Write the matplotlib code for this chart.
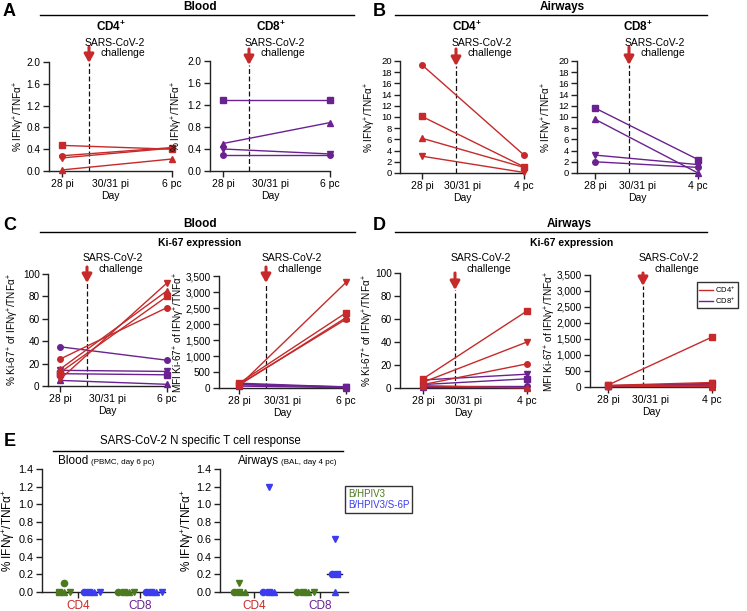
import matplotlib
matplotlib.use('Agg')
import matplotlib.pyplot as plt
from matplotlib.lines import Line2D
from matplotlib import transforms
from matplotlib.ticker import FuncFormatter
import numpy as np

plt.rcParams['font.family'] = ['Liberation Sans', 'DejaVu Sans']
plt.rcParams['mathtext.fontset'] = 'custom'
plt.rcParams['mathtext.rm'] = 'Liberation Sans'
plt.rcParams['mathtext.it'] = 'Liberation Sans:italic'
plt.rcParams['mathtext.bf'] = 'Liberation Sans:bold'

#_________data (one value per animal, animals = circle, square, up-tri, down-tri)_________#
markers = ['o', 's', '^', 'v']
days_blood = ['28 pi', '6 pc']
days_airways = ['28 pi', '4 pc']

# A : blood, % IFNg+/TNFa+
a_cd4_pre = [0.28, 0.47, 0.02, 0.24]
a_cd4_post = [0.43, 0.40, 0.22, 0.42]
a_cd8_pre = [0.30, 1.30, 0.50, 0.40]
a_cd8_post = [0.30, 1.30, 0.88, 0.31]
# B : airways, % IFNg+/TNFa+
b_cd4_pre = [19.3, 10.1, 6.2, 3.0]
b_cd4_post = [3.2, 1.1, 1.0, 0.1]
b_cd8_pre = [2.0, 11.6, 9.6, 3.2]
b_cd8_post = [1.0, 2.4, 0.0, 1.5]
# C : blood, Ki-67
c_pct_cd4_pre = [24, 12, 15, 6]
c_pct_cd4_post = [70, 80, 85, 92]
c_pct_cd8_pre = [35, 11, 5, 14]
c_pct_cd8_post = [23, 10, 1.5, 13]
c_mfi_cd4_pre = [110, 150, 90, 70]
c_mfi_cd4_post = [2150, 2350, 2200, 3300]
c_mfi_cd8_pre = [150, 100, 60, 120]
c_mfi_cd8_post = [30, 40, 10, 20]
# D : airways, Ki-67
d_pct_cd4_pre = [3, 8, 2, 5]
d_pct_cd4_post = [21, 67, 0, 40]
d_pct_cd8_pre = [2, 3, 1, 7]
d_pct_cd8_post = [2, 8, 1, 12]
d_mfi_cd4_pre = [40, 60, 30, 50]
d_mfi_cd4_post = [60, 1560, 10, 140]
d_mfi_cd8_pre = [30, 40, 20, 30]
d_mfi_cd8_post = [40, 90, 20, 110]

# E : N specific response, groups CD4 / CD8
e_cats = ['CD4', 'CD8']
e_blood_green = [[0.1, 0, 0, 0], [0, 0, 0, 0]]
e_blood_blue = [[0, 0, 0, 0], [0, 0, 0, 0]]
e_air_green = [[0, 0, 0, 0.1], [0, 0, 0, 0]]
e_air_blue = [[0, 0, 0, 1.2], [0.2, 0.2, 0, 0.6]]

RED = '#c62a2a'
PURPLE = '#6a2290'
GREEN = '#4b7a1f'
BLUE = '#3b3bf0'
AX = '#222222'

W, H = 747, 611
fig = plt.figure(figsize=(W / 100, H / 100), dpi=100)


def fx(x):
    return x / W


def fy(y):
    return 1 - y / H


def make_ax(x0, x1, yt, yb, labelsize=7.5):
    ax = fig.add_axes([fx(x0), fy(yb), (x1 - x0) / W, (yb - yt) / H])
    ax.spines[['top', 'right']].set_visible(False)
    for s in ax.spines.values():
        s.set_linewidth(1)
        s.set_color(AX)
    ax.tick_params(direction='out', length=4, width=1, color=AX, labelsize=labelsize, pad=2)
    return ax


def time_panel(rect, x28, xchal, last, ylim, yticks, fmt, ylabel, ylab_x, series,
               arrow, txt_y, labelsize=7.2):
    x0, x1, yt, yb = rect
    ax = make_ax(x0, x1, yt, yb, labelsize)
    lo = -(x28 - x0) / (x1 - x28)
    chal = (xchal - x28) / (x1 - x28)
    ax.set_xlim(lo, 1)
    ax.set_ylim(*ylim)
    ax.set_yticks(yticks)
    ax.yaxis.set_major_formatter(FuncFormatter(fmt))
    ax.set_xticks([0, 1], ['28 pi', last])
    ax.set_xticks([(lo + 1) / 2], ['30/31 pi'], minor=True)
    ax.tick_params(axis='x', which='major', labelsize=7.5)
    ax.tick_params(axis='x', which='minor', length=0, pad=6, labelsize=7.5)
    ax.set_xlabel('Day', fontsize=7.5, labelpad=1)
    ax.set_ylabel(ylabel, fontsize=7.2)
    ax.yaxis.set_label_coords(ylab_x, 0.5)

    for pre, post, col in series:
        for i in range(len(pre)):
            ax.plot([0, 1], [pre[i], post[i]], color=col, lw=1, marker=markers[i],
                    ms=4, clip_on=False, zorder=3)

    # challenge arrow + dashed line
    top, tip = arrow
    tip_frac = (yb - tip) / (yb - yt)
    ax.axvline(chal, ymin=0, ymax=tip_frac, color='#111111', lw=0.9, ls=(0, (4, 2)), zorder=2)
    tr = transforms.blended_transform_factory(ax.transData, fig.transFigure)
    ax.annotate('', xy=(chal, fy(tip)), xycoords=tr, xytext=(chal, fy(top)), textcoords=tr,
                arrowprops=dict(arrowstyle='-|>,head_width=0.28,head_length=0.5', color=RED,
                                lw=2.2, shrinkA=0, shrinkB=0), annotation_clip=False)
    ttr = transforms.offset_copy(tr, fig=fig, x=-4, y=0, units='dots')
    ax.text(chal, fy(txt_y), 'SARS-CoV-2\nchallenge', transform=ttr, ha='left', va='center',
            multialignment='right', fontsize=7.5, linespacing=1.05)
    return ax


def dec1(v, p):
    return f'{v:.1f}'


def integer(v, p):
    return f'{int(round(v))}'


def comma(v, p):
    return f'{int(round(v)):,}'


IFN = '% IFNγ$^{+}$/TNFα$^{+}$'
KI_PCT = '% Ki-67$^{+}$ of IFNγ$^{+}$/TNFα$^{+}$'
KI_MFI = 'MFI Ki-67$^{+}$ of IFNγ$^{+}$/TNFα$^{+}$'

# ---- A ----
time_panel((49, 172, 62, 171), 62, 89, days_blood[1], (0, 2.0), np.arange(0, 2.01, 0.4), dec1,
           IFN, -0.18, [(a_cd4_pre, a_cd4_post, RED)], (47, 63), 48)
time_panel((210, 330, 61, 171), 223, 249, days_blood[1], (0, 2.0), np.arange(0, 2.01, 0.4), dec1,
           IFN, -0.21, [(a_cd8_pre, a_cd8_post, PURPLE)], (49, 65), 48)
# ---- B ----
time_panel((400, 524, 61, 173), 422, 456, days_airways[1], (0, 20), np.arange(0, 21, 2), integer,
           IFN, -0.18, [(b_cd4_pre, b_cd4_post, RED)], (49, 66), 48, labelsize=6.8)
time_panel((577, 698, 61, 173), 595, 629, days_airways[1], (0, 20), np.arange(0, 21, 2), integer,
           IFN, -0.18, [(b_cd8_pre, b_cd8_post, PURPLE)], (47, 65), 48, labelsize=6.8)
# ---- C ----
time_panel((48, 167, 274, 386), 60, 87, days_blood[1], (0, 100), np.arange(0, 101, 20), integer,
           KI_PCT, -0.23, [(c_pct_cd8_pre, c_pct_cd8_post, PURPLE), (c_pct_cd4_pre, c_pct_cd4_post, RED)],
           (267, 283), 263.5)
time_panel((219, 346, 276, 388), 239, 266, days_blood[1], (0, 3500), np.arange(0, 3501, 500), comma,
           KI_MFI, -0.25, [(c_mfi_cd8_pre, c_mfi_cd8_post, PURPLE), (c_mfi_cd4_pre, c_mfi_cd4_post, RED)],
           (267, 283), 263.5)
# ---- D ----
time_panel((400, 527, 273, 388), 423, 455, days_airways[1], (0, 100), np.arange(0, 101, 20), integer,
           KI_PCT, -0.19, [(d_pct_cd8_pre, d_pct_cd8_post, PURPLE), (d_pct_cd4_pre, d_pct_cd4_post, RED)],
           (273, 290), 263.5)
time_panel((590, 712, 275, 387), 608, 643, days_airways[1], (0, 3500), np.arange(0, 3501, 500), comma,
           KI_MFI, -0.26, [(d_mfi_cd8_pre, d_mfi_cd8_post, PURPLE), (d_mfi_cd4_pre, d_mfi_cd4_post, RED)],
           (273, 286), 263.5)

fig.legend([Line2D([], [], color=RED, lw=1), Line2D([], [], color=PURPLE, lw=1)],
           ['CD4$^{+}$', 'CD8$^{+}$'], loc='upper left', bbox_to_anchor=(fx(697), fy(282)),
           fontsize=5.5, frameon=True, fancybox=False, edgecolor='k', borderpad=0.3,
           handlelength=1.8, handletextpad=0.3, labelspacing=0.15, borderaxespad=0)


# ---- E ----
def e_panel(rect, tick_px, ylab_x, green, blue):
    x0, x1, yt, yb = rect
    ax = make_ax(x0, x1, yt, yb, labelsize=7.8)
    ax.tick_params(axis='x', labelsize=8.5)
    unit = tick_px[1] - tick_px[0]
    ax.set_xlim((x0 - tick_px[0]) / unit, (x1 - tick_px[0]) / unit)
    ax.set_ylim(0, 1.4)
    ax.set_yticks(np.arange(0, 1.41, 0.2))
    ax.yaxis.set_major_formatter(FuncFormatter(dec1))
    ax.set_xticks([0, 1], e_cats)
    for lab, col in zip(ax.get_xticklabels(), [RED, PURPLE]):
        lab.set_color(col)
    ax.set_ylabel(IFN, fontsize=8.5)
    ax.yaxis.set_label_coords(ylab_x, 0.5)
    step = 0.085
    for vals_all, col, off in [(green, GREEN, -0.22), (blue, BLUE, 0.22)]:
        for g, vals in enumerate(vals_all):
            vals = np.array(vals, dtype=float)
            xs = np.zeros(len(vals))
            for v in np.unique(vals):
                idx = np.where(vals == v)[0]
                xs[idx] = (np.arange(len(idx)) - (len(idx) - 1) / 2) * step
            for i in range(len(vals)):
                ax.plot(g + off + xs[i], vals[i], marker=['o', 's', '^', 'v'][i], color=col,
                        ms=4.5, clip_on=False, zorder=4, ls='none')
            med = np.median(vals)
            ax.plot([g + off - 0.12, g + off + 0.12], [med, med], color='#111133', lw=1,
                    clip_on=False, zorder=3)
    return ax


e_panel((42, 165, 469, 592), (78, 140), -0.2, e_blood_green, e_blood_blue)
e_panel((220, 348, 469, 592), (254, 320), -0.19, e_air_green, e_air_blue)

leg = fig.legend([Line2D([], [], lw=0), Line2D([], [], lw=0)], ['B/HPIV3', 'B/HPIV3/S-6P'],
                 loc='upper left', bbox_to_anchor=(fx(345), fy(486)), fontsize=7, frameon=True,
                 fancybox=False, edgecolor='k', handlelength=0, handletextpad=0, borderpad=0.3,
                 labelspacing=0.15, borderaxespad=0)
for t, c in zip(leg.get_texts(), [GREEN, BLUE]):
    t.set_color(c)

# ---- headers ----
def header_line(xa, xb, y):
    fig.add_artist(Line2D([fx(xa), fx(xb)], [fy(y), fy(y)], color='k', lw=1))


for letter, x, y in [('A', 3, 12), ('B', 373, 12), ('C', 3, 226), ('D', 373, 226), ('E', 4, 441)]:
    fig.text(fx(x), fy(y), letter, fontsize=13, fontweight='bold', va='center', ha='left')

fig.text(fx(200), fy(7), 'Blood', fontsize=8.5, fontweight='bold', ha='center', va='center')
fig.text(fx(562), fy(7), 'Airways', fontsize=8.5, fontweight='bold', ha='center', va='center')
header_line(40, 354, 15)
header_line(395, 707, 15)
for txt, x in [('CD4$^{\\mathbf{+}}$', 111), ('CD8$^{\\mathbf{+}}$', 271),
               ('CD4$^{\\mathbf{+}}$', 467), ('CD8$^{\\mathbf{+}}$', 638)]:
    fig.text(fx(x), fy(27), txt, fontsize=8.5, fontweight='bold', ha='center', va='center')

fig.text(fx(200), fy(224), 'Blood', fontsize=8.5, fontweight='bold', ha='center', va='center')
fig.text(fx(569), fy(224), 'Airways', fontsize=8.5, fontweight='bold', ha='center', va='center')
header_line(40, 355, 232)
header_line(395, 707, 232)
fig.text(fx(200), fy(243), 'Ki-67 expression', fontsize=7.5, fontweight='bold', ha='center', va='center')
fig.text(fx(572), fy(243), 'Ki-67 expression', fontsize=7.5, fontweight='bold', ha='center', va='center')

fig.text(fx(200), fy(441), 'SARS-CoV-2 N specific T cell response', fontsize=8.3, ha='center', va='center')
header_line(53, 343, 451)
fig.text(fx(58), fy(461), 'Blood', fontsize=8.5, ha='left', va='center')
fig.text(fx(91), fy(462), '(PBMC, day 6 pc)', fontsize=5.8, ha='left', va='center')
fig.text(fx(238), fy(461), 'Airways', fontsize=8.5, ha='left', va='center')
fig.text(fx(281), fy(462), '(BAL, day 4 pc)', fontsize=5.8, ha='left', va='center')

fig.savefig('out.png', dpi=100)
